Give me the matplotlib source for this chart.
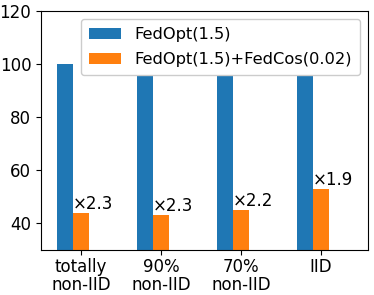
import numpy as np
import matplotlib
matplotlib.use("Agg")
import matplotlib.pyplot as plt

# data
categories = ["totally\nnon-IID", "90%\nnon-IID", "70%\nnon-IID", "IID"]
fedopt = [100, 100, 100, 100]
fedopt_fedcos = [44, 43, 45, 53]
speedups = ["×2.3", "×2.3", "×2.2", "×1.9"]
labels = ["FedOpt(1.5)", "FedOpt(1.5)+FedCos(0.02)"]

def main():
    plt.rcParams["font.size"] = 12
    fig = plt.figure(figsize=(3.74, 2.95), dpi=100)
    ax = fig.add_axes([41 / 374, 1 - 250 / 295, 327 / 374, 239 / 295])

    x = np.arange(len(categories))
    w = 0.2
    ax.bar(x - w, fedopt, width=w, color="#1f77b4", label=labels[0])
    ax.bar(x, fedopt_fedcos, width=w, color="#ff7f0e", label=labels[1])
    for xi, h, s in zip(x, fedopt_fedcos, speedups):
        ax.text(xi - w / 2, h, s, ha="left", va="bottom", fontsize=12)

    ax.set_ylim(30, 120)
    ax.set_yticks([40, 60, 80, 100, 120])
    ax.set_xlim(-0.5, 3.59)
    ax.set_xticks(x)
    ax.set_xticklabels(categories, linespacing=1.05)
    ax.tick_params(axis="x", pad=2)
    ax.legend(loc="upper right", fontsize=11.7, framealpha=1,
              borderpad=0.5, labelspacing=0.6)
    fig.savefig("out.png", dpi=100)

if __name__ == "__main__":
    main()
